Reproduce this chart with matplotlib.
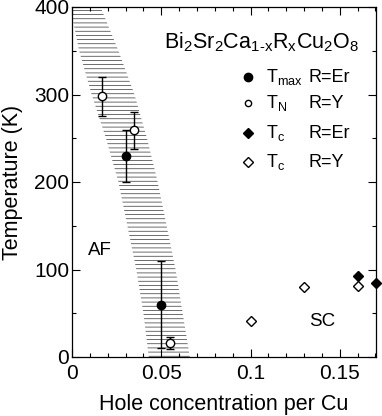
import numpy as np
import matplotlib
matplotlib.use("Agg")
import matplotlib.pyplot as plt
from matplotlib.ticker import MultipleLocator

plt.rcParams['font.family'] = ['Liberation Sans', 'DejaVu Sans']
plt.rcParams['mathtext.fontset'] = 'custom'
plt.rcParams['mathtext.rm'] = 'Liberation Sans'
plt.rcParams['mathtext.it'] = 'Liberation Sans'
plt.rcParams['hatch.linewidth'] = 0.5

# T_max, R=Er (filled circles)
tmax_x = [0.030, 0.050]
tmax_y = [230, 60]
tmax_lo = [30, 50]
tmax_hi = [29, 50]

# T_N, R=Y (open circles)
tn_x = [0.017, 0.035, 0.055]
tn_y = [298, 259, 16]
tn_lo = [23, 21, 7]
tn_hi = [22, 21, 7]

# T_c, R=Er (filled diamonds)
tc_er_x = [0.160, 0.170]
tc_er_y = [93, 85]

# T_c, R=Y (open diamonds)
tc_y_x = [0.100, 0.130, 0.160]
tc_y_y = [41, 80, 81]

# AF region band
band_T = [400, 350, 300, 250, 200, 150, 100, 50, 0]
band_left = [-0.001, 0.004, 0.011, 0.019, 0.026, 0.031, 0.036, 0.040, 0.043]
band_right = [0.016, 0.026, 0.035, 0.042, 0.048, 0.053, 0.058, 0.062, 0.066]

fig = plt.figure(figsize=(3.82, 4.16), dpi=100)
ax = fig.add_axes([72 / 382, 1 - 357 / 416, 303.5 / 382, 350 / 416])

ax.fill_betweenx(band_T, band_left, band_right, facecolor='none',
                 edgecolor='#333333', hatch='----', linewidth=0)

ax.errorbar(tmax_x, tmax_y, yerr=[tmax_lo, tmax_hi], fmt='o', color='black',
            ms=6, elinewidth=1, capsize=3, capthick=1, zorder=3)
ax.errorbar(tn_x, tn_y, yerr=[tn_lo, tn_hi], fmt='o', mfc='white', mec='black',
            ecolor='black', ms=6, mew=1, elinewidth=1, capsize=3, capthick=1,
            zorder=3)
ax.plot(tc_er_x, tc_er_y, 'D', color='black', ms=5.2, clip_on=False, zorder=4)
ax.plot(tc_y_x, tc_y_y, 'D', mfc='white', mec='black', mew=1, ms=5.2,
        clip_on=False, zorder=4)

ax.set_xlim(0, 0.17)
ax.set_ylim(0, 400)
ax.xaxis.set_minor_locator(MultipleLocator(0.01))
ax.yaxis.set_major_locator(MultipleLocator(100))
ax.yaxis.set_minor_locator(MultipleLocator(50))
ax.set_xticks([0, 0.05, 0.1, 0.15])
ax.set_xticklabels(['0', '0.05', '0.1', '0.15'])
ax.tick_params(which='both', direction='in', top=True, right=True,
               labelsize=15, width=0.8)
ax.tick_params(which='major', length=6)
ax.tick_params(which='minor', length=3)
ax.tick_params(axis='y', pad=2)
ax.tick_params(axis='x', pad=5)
for s in ax.spines.values():
    s.set_linewidth(0.9)

ax.set_xlabel('Hole concentration per Cu', fontsize=15.5, labelpad=8)
ax.set_ylabel('Temperature (K)', fontsize=15.5, labelpad=8)

ax.text(0.0155, 122, 'AF', fontsize=13.5, ha='center', va='center')
ax.text(0.140, 40, 'SC', fontsize=13.5, ha='center', va='center')

ax.text(0.945, 0.90, r'Bi$_2$Sr$_2$Ca$_{1\text{-}x}$R$_x$Cu$_2$O$_8$',
        transform=ax.transAxes, fontsize=15.5, ha='right', va='center')

# legend drawn by hand so the R= column lines up
leg_labels = [r'T$_{\rm max}$', r'T$_{\rm N}$', r'T$_{\rm c}$', r'T$_{\rm c}$']
leg_r = ['R=Er', 'R=Y', 'R=Er', 'R=Y']
leg_marker = ['o', 'o', 'D', 'D']
leg_fill = ['black', 'white', 'black', 'white']
leg_ms = [6, 4.5, 5.5, 5.5]
leg_y = [0.80, 0.725, 0.64, 0.557]
for lab, r, m, f, ms, yy in zip(leg_labels, leg_r, leg_marker, leg_fill, leg_ms, leg_y):
    ax.plot([0.58], [yy], m, mfc=f, mec='black', mew=1, ms=ms,
            transform=ax.transAxes, clip_on=False)
    ax.text(0.64, yy, lab, transform=ax.transAxes, fontsize=13, va='center')
    ax.text(0.78, yy, r, transform=ax.transAxes, fontsize=13, va='center')

fig.savefig('out.png', dpi=100)
